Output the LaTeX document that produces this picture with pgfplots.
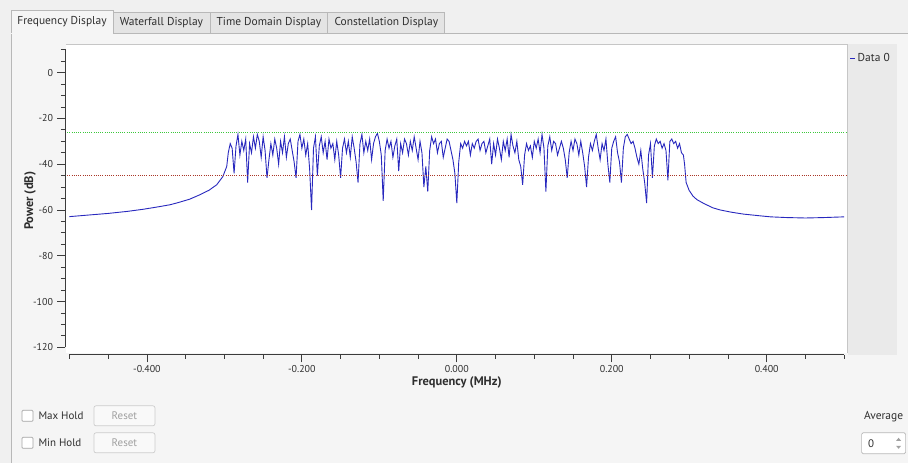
\documentclass[border=0pt]{standalone}
\usepackage{fontspec}
\setmainfont{PT Sans}
\usepackage{pgfplots}
\usepackage{pgfplotstable}
\pgfplotsset{compat=1.18}
\definecolor{bg}{HTML}{F0F0F0}
\definecolor{panel}{HTML}{F5F5F5}
\definecolor{tabbg}{HTML}{E4E4E4}
\definecolor{frame}{HTML}{B8B8B8}
\definecolor{legbg}{HTML}{EAEAEA}
\definecolor{axc}{HTML}{3C3C3C}
\definecolor{txt}{HTML}{2E2E2E}
\definecolor{curve}{RGB}{40,40,190}
\definecolor{thrG}{RGB}{60,200,60}
\definecolor{thrR}{RGB}{170,55,40}
\definecolor{dis}{HTML}{A0A0A0}

\pgfplotstableread{
x y
-0.5000 -62.9
-0.4750 -62.2
-0.4500 -61.5
-0.4250 -60.6
-0.4050 -59.7
-0.3850 -58.6
-0.3700 -57.7
-0.3600 -56.8
-0.3450 -55.3
-0.3320 -53.4
-0.3200 -51.4
-0.3100 -49.0
-0.3020 -45.4
-0.2970 -41.0
-0.2950 -35.0
-0.2925 -31
-0.2900 -33
-0.2875 -44
-0.2850 -32
-0.2825 -27
-0.2800 -36
-0.2775 -30
-0.2750 -34
-0.2725 -29
-0.2700 -48
-0.2675 -31
-0.2650 -35
-0.2625 -28
-0.2600 -33
-0.2575 -27
-0.2550 -30
-0.2525 -37
-0.2500 -28
-0.2475 -34
-0.2450 -46
-0.2425 -38
-0.2400 -31
-0.2375 -36
-0.2350 -29
-0.2325 -33
-0.2300 -40
-0.2275 -30
-0.2250 -35
-0.2225 -28
-0.2200 -37
-0.2175 -31
-0.2150 -29
-0.2125 -34
-0.2100 -39
-0.2075 -46
-0.2050 -30
-0.2025 -27
-0.2000 -33
-0.1975 -29
-0.1950 -36
-0.1925 -31
-0.1900 -42
-0.1875 -60
-0.1850 -33
-0.1825 -28
-0.1800 -45
-0.1775 -32
-0.1750 -28
-0.1725 -35
-0.1700 -30
-0.1675 -38
-0.1650 -29
-0.1625 -33
-0.1600 -31
-0.1575 -38
-0.1550 -30
-0.1525 -36
-0.1500 -46
-0.1475 -33
-0.1450 -29
-0.1425 -35
-0.1400 -30
-0.1375 -37
-0.1350 -28
-0.1325 -33
-0.1300 -39
-0.1275 -48
-0.1250 -31
-0.1225 -27
-0.1200 -35
-0.1175 -30
-0.1150 -34
-0.1125 -29
-0.1100 -38
-0.1075 -31
-0.1050 -28
-0.1025 -26.5
-0.1000 -30
-0.0975 -36
-0.0950 -56
-0.0925 -34
-0.0900 -29
-0.0875 -33
-0.0850 -30
-0.0825 -37
-0.0800 -32
-0.0775 -29
-0.0750 -43
-0.0725 -31
-0.0700 -35
-0.0675 -29
-0.0650 -31
-0.0625 -36
-0.0600 -30
-0.0575 -34
-0.0550 -28
-0.0525 -33
-0.0500 -38
-0.0475 -30
-0.0450 -35
-0.0425 -50
-0.0400 -41
-0.0375 -52
-0.0350 -34
-0.0325 -28
-0.0300 -31
-0.0275 -29
-0.0250 -35
-0.0225 -31
-0.0200 -30
-0.0175 -37
-0.0150 -33
-0.0125 -29
-0.0100 -30
-0.0075 -34
-0.0050 -38
-0.0025 -44
0.0000 -57
0.0025 -39
0.0050 -31
0.0075 -33
0.0100 -30
0.0125 -32
0.0150 -30
0.0175 -36
0.0200 -31
0.0225 -33
0.0250 -30
0.0275 -29
0.0300 -34
0.0325 -31
0.0350 -30
0.0375 -35
0.0400 -32
0.0425 -29
0.0450 -40
0.0475 -31
0.0500 -36
0.0525 -29
0.0550 -33
0.0575 -38
0.0600 -30
0.0625 -34
0.0650 -29
0.0675 -37
0.0700 -27
0.0725 -32
0.0750 -35
0.0775 -30
0.0800 -38
0.0825 -41
0.0850 -49
0.0875 -36
0.0900 -31
0.0925 -34
0.0950 -32
0.0975 -37
0.1000 -30
0.1025 -33
0.1050 -29
0.1075 -35
0.1100 -27
0.1125 -33
0.1150 -52
0.1175 -32
0.1200 -28
0.1225 -34
0.1250 -30
0.1275 -31
0.1300 -36
0.1325 -33
0.1350 -30
0.1375 -33
0.1400 -38
0.1425 -46
0.1450 -35
0.1475 -30
0.1500 -34
0.1525 -29
0.1550 -31
0.1575 -36
0.1600 -30
0.1625 -35
0.1650 -41
0.1675 -50
0.1700 -37
0.1725 -31
0.1750 -34
0.1775 -30
0.1800 -27
0.1825 -33
0.1850 -38
0.1875 -31
0.1900 -34
0.1925 -29
0.1950 -40
0.1975 -48
0.2000 -33
0.2025 -30
0.2050 -28
0.2075 -35
0.2100 -39
0.2125 -48
0.2150 -33
0.2175 -28
0.2200 -27
0.2225 -29
0.2250 -31
0.2275 -30
0.2300 -33
0.2325 -37
0.2350 -40
0.2375 -34
0.2400 -42
0.2425 -48
0.2450 -57
0.2475 -36
0.2500 -31
0.2525 -46
0.2550 -32
0.2575 -29
0.2600 -31
0.2625 -30
0.2650 -33
0.2675 -31
0.2700 -34
0.2725 -47
0.2750 -30
0.2775 -29
0.2800 -31
0.2825 -30
0.2850 -33
0.2875 -31
0.2900 -35
0.2925 -36
0.2940 -40
0.2960 -48
0.3000 -51.5
0.3050 -54
0.3100 -55.5
0.3180 -57
0.3300 -59
0.3400 -60
0.3550 -61
0.3700 -61.8
0.3900 -62.5
0.4050 -63
0.4250 -63.3
0.4500 -63.5
0.4750 -63.3
0.5000 -63
}\spectrum

\pgfplotstableread{
x y
-0.5058 -26.2
0.5045 -26.2
}\thrhigh
\pgfplotstableread{
x y
-0.5058 -44.7
0.5045 -44.7
}\thrlow

\newcommand{\uif}{\fontsize{11.5}{13}\selectfont}
\newcommand{\btf}{\fontsize{11}{13}\selectfont}

\begin{document}
\begin{tikzpicture}[x=1bp,y=-1bp]
% window background
\fill[bg] (0,0) rectangle (908,463);
% tab panel
\fill[panel] (11,33) rectangle (908,463);
\draw[frame,line width=0.8bp] (11,463) -- (11,33) -- (908,33);
% inactive tabs
\foreach \a/\b in {113/210,210/328,328/445}{
  \draw[frame,line width=0.8bp,fill=tabbg] (\a,33) -- (\a,12) -- (\b,12) -- (\b,33);
}
% active tab
\fill[panel] (11.4,10) rectangle (112.6,33.6);
\draw[frame,line width=0.8bp] (11,33) -- (11,10) -- (113,10) -- (113,33);
\node[font=\uif,text=txt] at (62,22) {Frequency Display};
\node[font=\uif,text=txt] at (161.5,22.5) {Waterfall Display};
\node[font=\uif,text=txt] at (269,22.5) {Time Domain Display};
\node[font=\uif,text=txt] at (386.5,22.5) {Constellation Display};
% legend column and canvas
\fill[legbg] (848,44) rectangle (897,355);
\fill[white] (66,44) rectangle (848,353);
\draw[frame!80,line width=0.7bp] (66,44) -- (848,44) -- (848,353);

\begin{axis}[
  at={(65bp,-355bp)}, anchor=south west,
  scale only axis, width=783bp, height=310bp,
  xmin=-0.5058, xmax=0.5045, ymin=-123.3, ymax=12.1,
  clip=false,
  axis line style={draw=none},
  xtick pos=bottom, ytick pos=left, tick align=outside,
  xtick={-0.4,-0.2,0,0.2,0.4},
  xticklabels={-0.400,-0.200,0.000,0.200,0.400},
  minor xtick={-0.5,-0.45,-0.35,-0.3,-0.25,-0.15,-0.1,-0.05,0.05,0.1,0.15,0.25,0.3,0.35,0.45,0.5},
  ytick={-120,-100,-80,-60,-40,-20,0},
  yticklabels={-120,-100,-80,-60,-40,-20,0},
  minor ytick={-115,-110,-105,-95,-90,-85,-75,-70,-65,-55,-50,-45,-35,-30,-25,-15,-10,-5,5,10},
  major tick length=7.5bp, minor tick length=4bp,
  every tick/.style={axc,line width=0.8bp},
  minor tick style={axc,line width=0.8bp},
  tick label style={font=\fontsize{10}{12}\selectfont,text=txt},
  y tick label style={xshift=-1bp},
  legend style={at={(1,1)}, anchor=north west, xshift=2bp, yshift=-6bp,
    draw=none, fill=none, inner sep=0pt, font=\uif, text=txt},
  legend image code/.code={\draw[#1] (0bp,0bp) -- (5bp,0bp);},
]
\addplot[curve, line width=0.9bp] table[x=x,y=y] {\spectrum};
\addlegendentry{Data 0}
\addplot[thrG, line width=0.8bp, dash pattern=on 1bp off 1.2bp, forget plot] table[x=x,y=y] {\thrhigh};
\addplot[thrR, line width=0.8bp, dash pattern=on 1bp off 1.2bp, forget plot] table[x=x,y=y] {\thrlow};
\draw[axc,line width=0.8bp] (axis cs:-0.5,-123.3) -- (axis cs:0.5,-123.3);
\draw[axc,line width=0.8bp] (axis cs:-0.5058,-120) -- (axis cs:-0.5058,10.3);
\end{axis}

% axis titles
\node[font=\bfseries\fontsize{12.5}{14}\selectfont,text=txt] at (457,383) {Frequency (MHz)};
\node[font=\bfseries\fontsize{12.5}{14}\selectfont,text=txt,rotate=90] at (30,201) {Power (dB)};

% bottom controls
\foreach \yy/\lab in {416/Max Hold,443/Min Hold}{
  \draw[frame!90!black,line width=0.7bp,fill=white,rounded corners=1bp] (22,\yy-5.5) rectangle (33,\yy+5.5);
  \node[font=\btf,text=txt,anchor=west] at (35,\yy) {\lab};
  \draw[frame!70,line width=0.7bp,fill=panel!60!white,rounded corners=2bp] (94,\yy-10) rectangle (155,\yy+10);
  \node[font=\btf,text=dis] at (124.5,\yy) {Reset};
}
\node[font=\uif,text=txt] at (884,417) {Average};
\draw[frame,line width=0.7bp,fill=white,rounded corners=1.5bp] (862,433) rectangle (906,454);
\node[font=\btf,text=txt,anchor=west] at (865,443.5) {0};
\fill[dis] (899,438) -- (901.5,441) -- (896.5,441) -- cycle;
\fill[dis] (899,449) -- (901.5,446) -- (896.5,446) -- cycle;
\end{tikzpicture}
\end{document}
